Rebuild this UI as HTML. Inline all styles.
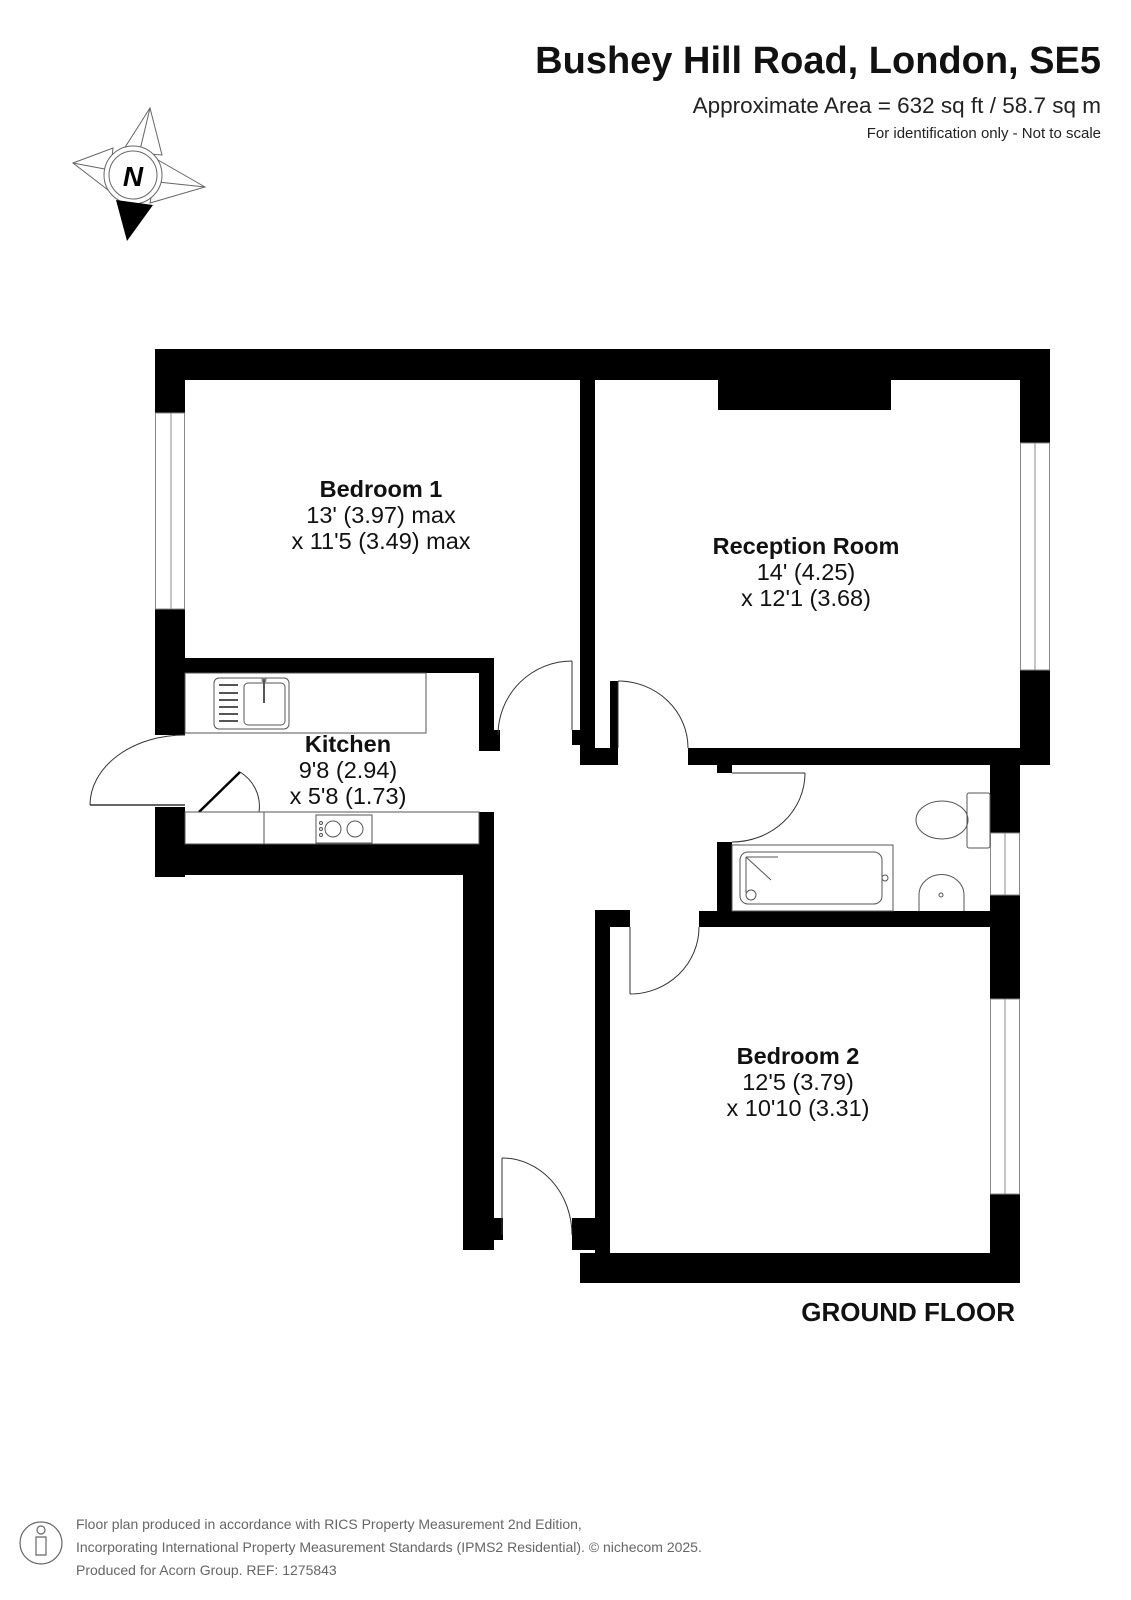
<!DOCTYPE html>
<html><head><meta charset="utf-8"><style>
html,body{margin:0;padding:0;background:#fff;}
svg{display:block;font-family:"Liberation Sans",Arial,sans-serif;}
</style></head><body>
<svg width="1131" height="1600" viewBox="0 0 1131 1600" xmlns="http://www.w3.org/2000/svg">
<rect width="1131" height="1600" fill="#fff"/>
<!-- header -->
<text x="1101" y="73" text-anchor="end" font-size="38" font-weight="bold" fill="#111">Bushey Hill Road, London, SE5</text>
<text x="1101" y="113" text-anchor="end" font-size="22.5" fill="#222">Approximate Area = 632 sq ft / 58.7 sq m</text>
<text x="1101" y="138" text-anchor="end" font-size="15" fill="#222">For identification only - Not to scale</text>

<!-- compass -->
<g stroke="#666" stroke-width="1" fill="#fff">
<polygon points="150,108 122,152 162,155"/>
<polygon points="73,163 113,148 108,190"/>
<polygon points="205,187 158,160 150,203"/>
<line x1="150" y1="108" x2="140" y2="150"/>
<line x1="73" y1="163" x2="110" y2="170"/>
<line x1="205" y1="187" x2="158" y2="182"/>
<circle cx="133" cy="175" r="29"/>
<circle cx="133" cy="175" r="24"/>
</g>
<polygon points="116,200 153,205 127,241" fill="#000"/>
<text x="133" y="186" text-anchor="middle" font-size="28" font-weight="bold" font-style="italic" fill="#000">N</text>

<!-- walls -->
<g fill="#000">
<rect x="155" y="349" width="895" height="31"/>
<rect x="155" y="349" width="30" height="64"/>
<rect x="155" y="609" width="30" height="126"/>
<rect x="155" y="807" width="30" height="70"/>
<rect x="155" y="844" width="339" height="31"/>
<rect x="185" y="658" width="309" height="15"/>
<rect x="479" y="658" width="15" height="93"/>
<rect x="494" y="730" width="6" height="21"/>
<rect x="479" y="812" width="15" height="40"/>
<rect x="463" y="844" width="31" height="406"/>
<rect x="494" y="1218" width="9" height="22"/>
<rect x="580" y="380" width="15" height="385"/>
<rect x="572" y="730" width="8" height="15"/>
<rect x="580" y="748" width="38" height="17"/>
<rect x="610" y="681" width="8" height="67"/>
<rect x="718" y="380" width="173" height="30"/>
<rect x="688" y="748" width="362" height="17"/>
<rect x="1020" y="380" width="30" height="63"/>
<rect x="1020" y="670" width="30" height="95"/>
<rect x="717" y="765" width="15" height="8"/>
<rect x="717" y="842" width="15" height="69"/>
<rect x="699" y="911" width="321" height="16"/>
<rect x="990" y="765" width="30" height="68"/>
<rect x="990" y="895" width="30" height="104"/>
<rect x="990" y="1194" width="30" height="89"/>
<rect x="595" y="910" width="15" height="373"/>
<rect x="595" y="910" width="35" height="17"/>
<rect x="572" y="1218" width="38" height="32"/>
<rect x="580" y="1253" width="440" height="30"/>
</g>

<!-- windows -->
<g fill="#fff" stroke="#888" stroke-width="1">
<rect x="155.5" y="413" width="29" height="196"/>
<line x1="171" y1="413" x2="171" y2="609"/>
<rect x="1020.5" y="443" width="29" height="227"/>
<line x1="1035" y1="443" x2="1035" y2="670"/>
<rect x="990.5" y="833" width="29" height="62"/>
<line x1="1005" y1="833" x2="1005" y2="895"/>
<rect x="990.5" y="999" width="29" height="195"/>
<line x1="1005" y1="999" x2="1005" y2="1194"/>
</g>

<!-- doors -->
<g fill="none" stroke="#333" stroke-width="1">
<line x1="572" y1="661" x2="572" y2="730"/>
<path d="M572,661 A74,74 0 0 0 498,735"/>
<line x1="618" y1="681" x2="618" y2="748"/>
<path d="M618,681 A70,67 0 0 1 688,748"/>
<line x1="732" y1="773" x2="805" y2="773"/>
<path d="M805,773 A73,69 0 0 1 732,842"/>
<line x1="630" y1="927" x2="630" y2="994"/>
<path d="M630,994 A69,67 0 0 0 699,927"/>
<line x1="502" y1="1158" x2="502" y2="1235"/>
<path d="M502,1158 A70,77 0 0 1 572,1235"/>
<line x1="90" y1="805" x2="185" y2="805" stroke-width="1.5"/>
<path d="M90,805 A95,70 0 0 1 185,735"/>
<line x1="199" y1="812" x2="240" y2="772" stroke="#000" stroke-width="2.5"/>
<path d="M240,772 A40,40 0 0 1 259,812"/>
</g>

<!-- kitchen fittings -->
<g fill="none" stroke="#555" stroke-width="1">
<rect x="185" y="673" width="241" height="60"/>
<rect x="214" y="678" width="75" height="51" rx="5"/>
<rect x="244" y="683" width="41" height="42" rx="4"/>
<line x1="264" y1="679" x2="264" y2="703" stroke-width="2"/>
<circle cx="264" cy="680" r="2"/>
<line x1="219" y1="685" x2="238" y2="685" stroke-width="2"/>
<line x1="219" y1="693" x2="238" y2="693" stroke-width="2"/>
<line x1="219" y1="700" x2="238" y2="700" stroke-width="2"/>
<line x1="219" y1="707" x2="238" y2="707" stroke-width="2"/>
<line x1="219" y1="714" x2="238" y2="714" stroke-width="2"/>
<line x1="219" y1="721" x2="238" y2="721" stroke-width="2"/>
<rect x="185" y="812" width="294" height="32"/>
<line x1="264" y1="812" x2="264" y2="844"/>
<rect x="316" y="815" width="56" height="28"/>
<circle cx="333" cy="829" r="8"/>
<circle cx="355" cy="829" r="8"/>
<circle cx="321" cy="823" r="1.5"/><circle cx="321" cy="829" r="1.5"/><circle cx="321" cy="835" r="1.5"/>
<!-- bath -->
<rect x="732" y="845" width="161" height="66"/>
<rect x="740" y="852" width="142" height="52" rx="8"/>
<line x1="746" y1="857" x2="778" y2="857"/>
<line x1="746" y1="857" x2="771" y2="880"/>
<line x1="746" y1="857" x2="746" y2="893"/>
<circle cx="751" cy="895" r="5"/>
<circle cx="885" cy="878" r="3"/>
<!-- toilet -->
<rect x="967" y="793" width="23" height="55" rx="2"/>
<ellipse cx="942" cy="820" rx="26" ry="19"/>
<!-- basin -->
<path d="M919,911 V895 A22,20 0 0 1 964,895 V911"/>
<circle cx="941" cy="895" r="2"/>
</g>

<!-- labels -->
<g fill="#111" text-anchor="middle" font-size="23.5">
<text x="381" y="497" font-weight="bold">Bedroom 1</text>
<text x="381" y="523">13' (3.97) max</text>
<text x="381" y="549">x 11'5 (3.49) max</text>
<text x="806" y="554" font-weight="bold">Reception Room</text>
<text x="806" y="580">14' (4.25)</text>
<text x="806" y="606">x 12'1 (3.68)</text>
<text x="348" y="752" font-weight="bold">Kitchen</text>
<text x="348" y="778">9'8 (2.94)</text>
<text x="348" y="804">x 5'8 (1.73)</text>
<text x="798" y="1064" font-weight="bold">Bedroom 2</text>
<text x="798" y="1090">12'5 (3.79)</text>
<text x="798" y="1116">x 10'10 (3.31)</text>
</g>
<text x="1015" y="1321" text-anchor="end" font-size="26" font-weight="bold" fill="#111">GROUND FLOOR</text>

<!-- footer -->
<g fill="none" stroke="#666" stroke-width="1.2">
<circle cx="41" cy="1543" r="21"/>
<circle cx="41" cy="1530" r="4"/>
<path d="M36,1537 h10 v18 h-10 z"/>
</g>
<g fill="#666" font-size="14">
<text x="76" y="1529">Floor plan produced in accordance with RICS Property Measurement 2nd Edition,</text>
<text x="76" y="1552">Incorporating International Property Measurement Standards (IPMS2 Residential).   © nichecom 2025.</text>
<text x="76" y="1575">Produced for Acorn Group.   REF:  1275843</text>
</g>
</svg>
</body></html>
